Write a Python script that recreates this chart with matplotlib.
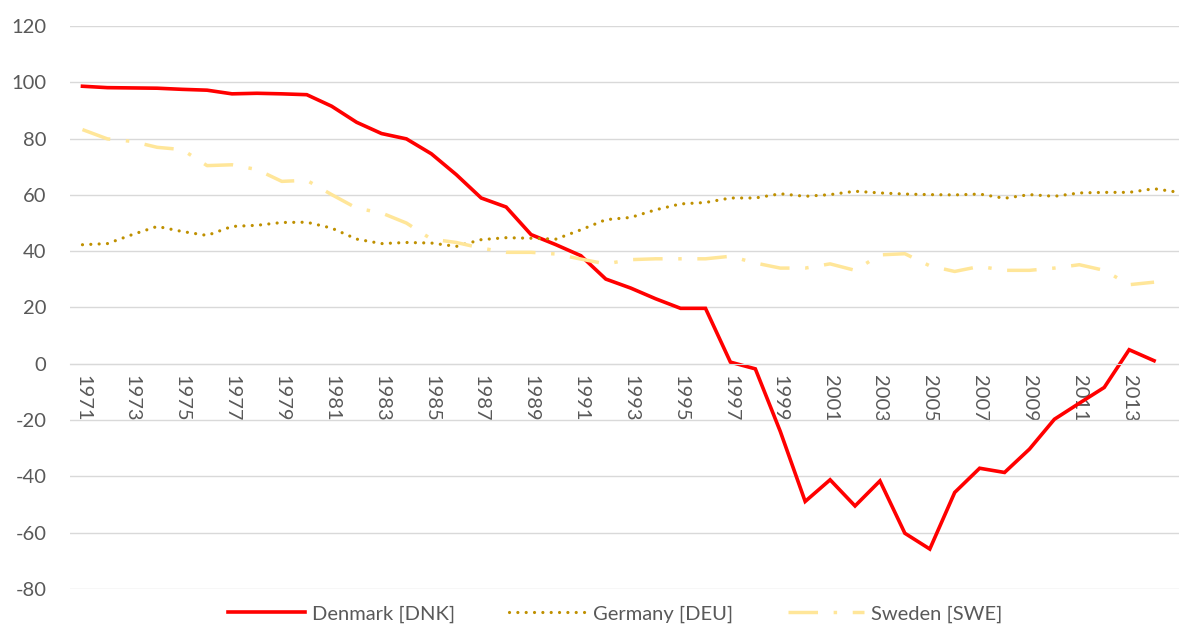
import matplotlib
matplotlib.use("Agg")
from matplotlib import pyplot as plt

# --- data ---
years = list(range(1971, 2016))

denmark = [98.6, 98.1, 98.0, 97.9, 97.5, 97.2, 95.9, 96.1, 95.9, 95.6,
           91.5, 85.8, 81.8, 79.9, 74.6, 67.2, 58.9, 55.7, 45.9, 42.3,
           38.4, 30.1, 26.9, 23.1, 19.7, 19.7, 0.6, -1.8, -24.0, -48.9,
           -41.2, -50.5, -41.6, -60.2, -65.8, -45.7, -37.1, -38.6, -30.3, -19.7,
           -14.0, -8.4, 5.0, 1.1, None]

germany = [42.3, 42.7, 45.9, 48.8, 47.0, 45.6, 48.8, 49.2, 50.2, 50.3,
           48.2, 44.3, 42.7, 43.1, 42.9, 41.7, 44.1, 44.8, 44.6, 44.3,
           47.6, 51.2, 52.0, 54.7, 56.8, 57.3, 58.9, 58.9, 60.4, 59.5,
           60.1, 61.3, 60.7, 60.3, 60.1, 60.0, 60.3, 58.8, 60.1, 59.5,
           60.7, 60.9, 60.9, 62.2, 60.9]

sweden = [83.2, 79.9, 79.0, 76.9, 76.1, 70.4, 70.7, 69.0, 64.8, 65.2,
          60.1, 55.3, 53.6, 50.0, 44.3, 43.1, 41.1, 39.6, 39.6, 39.0,
          37.2, 35.5, 37.0, 37.3, 37.3, 37.3, 38.2, 35.8, 34.0, 34.0,
          35.5, 33.2, 38.7, 39.1, 34.8, 32.8, 34.6, 33.2, 33.2, 34.0,
          35.2, 33.2, 28.1, 29.0, 29.0]

labels = ["Denmark [DNK]", "Germany [DEU]", "Sweden [SWE]"]
tick_years = list(range(1971, 2015, 2))
y_ticks = list(range(-80, 121, 20))

# --- style ---
plt.rcParams['font.family'] = ['Lato', 'DejaVu Sans']
plt.rcParams['axes.unicode_minus'] = False
text_col = '#595959'
grid_col = '#D9D9D9'

fig = plt.figure(figsize=(11.79, 6.28), dpi=100)
ax = fig.add_axes([70 / 1179, 1 - 589 / 628, 1109 / 1179, (589 - 26) / 628])

dnk_x = [y for y, v in zip(years, denmark) if v is not None]
dnk_y = [v for v in denmark if v is not None]
ax.plot(dnk_x, dnk_y, color='#FF0000', lw=2.6, solid_joinstyle='miter', label=labels[0])
ax.plot(years, germany, color='#BF9000', lw=2.3, linestyle=(0, (0.01, 2.6)),
        dash_capstyle='round', label=labels[1])
ax.plot(years[:-1], sweden[:-1], color='#FFE699', lw=2.5, linestyle=(0, (8.5, 4.5, 1, 4.5)),
        label=labels[2])

ax.set_xlim(1970.5, 2015.0)
ax.set_ylim(-80, 120)
ax.set_yticks(y_ticks)
ax.set_xticks(tick_years)
ax.set_xticklabels([str(y) for y in tick_years])
ax.grid(axis='y', color=grid_col, lw=1.0)

for s in ['top', 'right', 'left']:
    ax.spines[s].set_visible(False)
ax.spines['bottom'].set_position(('data', 0))
ax.spines['bottom'].set_color(grid_col)
ax.tick_params(axis='both', length=0, labelsize=14.5, labelcolor=text_col)
ax.tick_params(axis='y', pad=17)
ax.tick_params(axis='x', pad=8, labelrotation=-90)
for t in ax.get_xticklabels():
    t.set_va('top')
    t.set_ha('center')

leg = fig.legend(loc='center', bbox_to_anchor=(0.522, 1 - 614 / 628), ncol=3,
                 frameon=False, fontsize=14.5, handlelength=3.8, handletextpad=0.35,
                 columnspacing=2.7, labelcolor=text_col)

fig.savefig('out.png', dpi=100)
